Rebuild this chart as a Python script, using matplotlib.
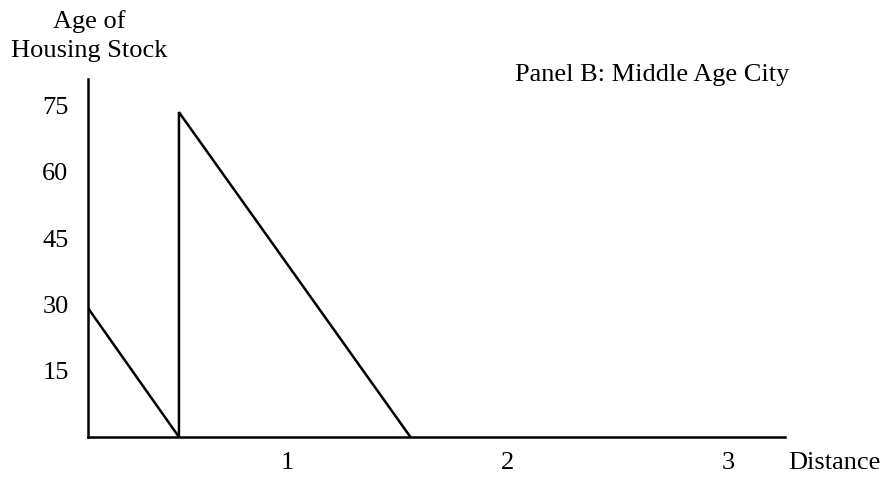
import matplotlib.pyplot as plt

plt.rcParams['font.family'] = ['Liberation Serif', 'DejaVu Serif']

# age of housing stock along distance from centre
distance = [0.1, 0.51, 0.51, 1.56]
age = [29, 0, 73.5, 0]

y_ticks = [15, 30, 45, 60, 75]
x_ticks = [1, 2, 3]

fig = plt.figure(figsize=(8.88, 4.82), dpi=100)
ax = fig.add_axes([88 / 888, 45 / 482, 697 / 888, 358 / 482])

ax.plot(distance, age, color='black', lw=1.8, solid_joinstyle='miter')

ax.set_xlim(0.0975, 3.259)
ax.set_ylim(0, 81)
ax.spines['top'].set_visible(False)
ax.spines['right'].set_visible(False)
ax.spines['left'].set_linewidth(1.8)
ax.spines['bottom'].set_linewidth(1.8)

ax.set_xticks(x_ticks)
ax.set_xticklabels([str(t) for t in x_ticks])
ax.set_yticks(y_ticks)
ax.set_yticklabels([str(t) for t in y_ticks])
ax.tick_params(axis='x', length=0, pad=11, labelsize=19)
ax.tick_params(axis='y', length=0, pad=14, labelsize=19)

fig.text(89 / 888, 1 - 36 / 482, 'Age of\nHousing Stock', ha='center', va='center',
         fontsize=19, linespacing=1.4)
fig.text(788 / 888, 1 - 463 / 482, 'Distance', ha='left', va='center', fontsize=19)
fig.text(515 / 888, 1 - 75 / 482, 'Panel B: Middle Age City', ha='left', va='center',
         fontsize=19)

fig.savefig('out.png', dpi=100)
